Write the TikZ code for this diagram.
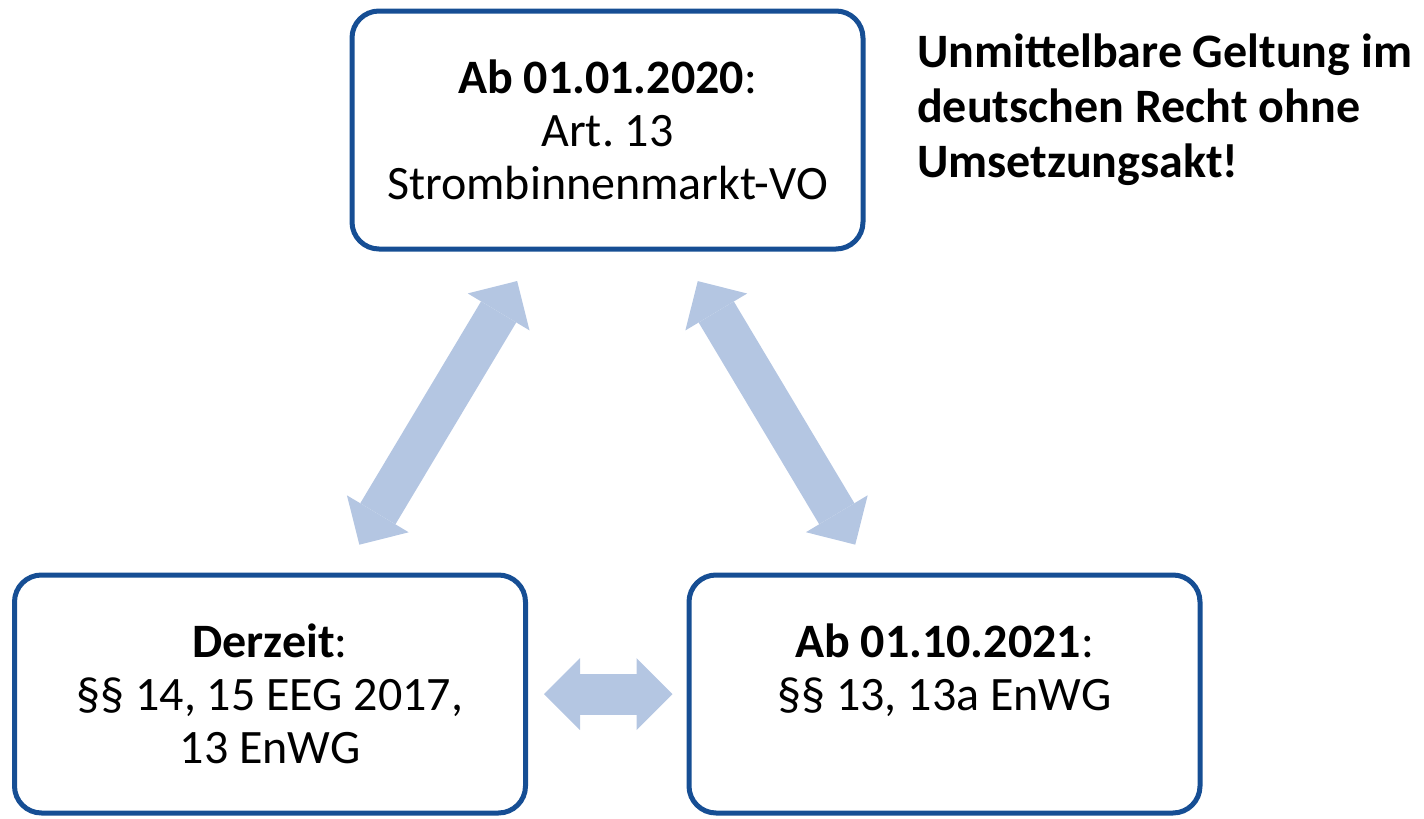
\documentclass[tikz,border=0pt]{standalone}
\usepackage{fontspec}
\setmainfont{Carlito}
\usetikzlibrary{arrows.meta}

\definecolor{boxblue}{RGB}{22,78,148}
\definecolor{arrowblue}{RGB}{180,198,226}

\begin{document}
\frenchspacing
\begin{tikzpicture}[x=1pt,y=-1pt]
\useasboundingbox (0,0) rectangle (1424,819);

\begin{scope}[every node/.style={rectangle,rounded corners=27pt,draw=boxblue,line width=5pt,
              minimum width=511pt,minimum height=238pt,align=center,
              font=\fontsize{48}{53}\selectfont}]
    \node (vo) at (607.5,130) {\textbf{Ab 01.01.2020}:\\Art. 13\\Strombinnenmarkt-VO};
    \node (eeg) at (270,694) {\textbf{Derzeit}:\\§§ 14, 15 EEG 2017,\\13 EnWG};
    \node (enwg) at (944.5,694) {\textbf{Ab 01.10.2021}:\\§§ 13, 13a EnWG\\\mbox{}};
\end{scope}

\node[anchor=base west,align=left,inner sep=0pt,font=\fontsize{48}{55}\selectfont\bfseries]
    (note) at (917,177) {Unmittelbare Geltung im\\deutschen Recht ohne\\Umsetzungsakt!};

\begin{scope}[every edge/.style={draw=arrowblue,line width=41pt,
              {Triangle[length=36pt,width=72pt,line width=0pt]}-{Triangle[length=36pt,width=72pt,line width=0pt]}}]
    \path (vo.center) edge[shorten <=176pt,shorten >=174pt] (eeg.center);
    \path (vo.center) edge[shorten <=176pt,shorten >=174pt] (enwg.center);
    \path (eeg.center) edge[shorten <=274pt,shorten >=272pt] (enwg.center);
\end{scope}
\end{tikzpicture}
\end{document}
